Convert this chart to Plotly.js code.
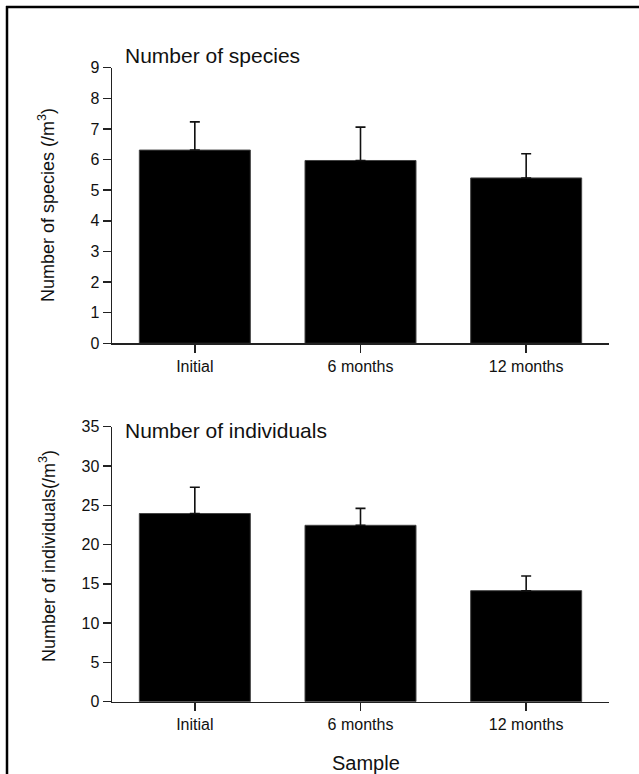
<!DOCTYPE html>
<html>
<head>
<meta charset="utf-8">
<script src="https://cdn.plot.ly/plotly-3.0.1.min.js"></script>
<style>html,body{margin:0;padding:0;background:#fff;}#chart{width:639px;height:774px;}</style>
</head>
<body>
<div id="chart"></div>
<script>
// ---- data ----
var categories = ["Initial", "6 months", "12 months"];
var speciesMean = [6.31, 5.97, 5.40];
var speciesErr = [0.92, 1.09, 0.79];
var individualsMean = [23.95, 22.45, 14.13];
var individualsErr = [3.35, 2.15, 1.87];
var speciesTicks = [0, 1, 2, 3, 4, 5, 6, 7, 8, 9];
var individualsTicks = [0, 5, 10, 15, 20, 25, 30, 35];

var W = 639, H = 774;
function px(x) { return x / W; }
function py(y) { return (H - y) / H; }
var FONT = "Liberation Sans, Arial, Helvetica, sans-serif";

function barTrace(y, err, xa, ya) {
  return {
    type: "bar", x: categories, y: y, xaxis: xa, yaxis: ya,
    marker: { color: "#000000", line: { color: "#444444", width: 1 } },
    error_y: { type: "data", array: err, symmetric: false, arrayminus: [0, 0, 0],
               color: "#111111", thickness: 1.6, width: 5 },
    hoverinfo: "x+y", showlegend: false
  };
}

var xCommon = {
  domain: [px(112), px(609)], range: [-0.5, 2.5], type: "category",
  showline: true, linecolor: "#222", linewidth: 1.5,
  ticks: "outside", ticklen: 8, tickwidth: 1.5, tickcolor: "#222",
  tickfont: { family: FONT, size: 16, color: "#111" },
  showgrid: false, zeroline: false, fixedrange: true
};
var yCommon = {
  showline: true, linecolor: "#222", linewidth: 1.5,
  ticks: "outside", ticklen: 8, tickwidth: 1.5, tickcolor: "#222",
  tickfont: { family: FONT, size: 16, color: "#111" },
  showgrid: false, zeroline: false, fixedrange: true, tickmode: "array"
};

var layout = {
  width: W, height: H,
  margin: { l: 0, r: 0, t: 0, b: 0 },
  paper_bgcolor: "#fff", plot_bgcolor: "rgba(0,0,0,0)",
  bargap: 0.33,
  font: { family: FONT, color: "#111" },
  xaxis: Object.assign({}, xCommon, { anchor: "y" }),
  yaxis: Object.assign({}, yCommon, { domain: [py(343.3), py(67.7)], range: [0, 9], anchor: "x",
          tickvals: speciesTicks, ticktext: speciesTicks.map(String) }),
  xaxis2: Object.assign({}, xCommon, { anchor: "y2" }),
  yaxis2: Object.assign({}, yCommon, { domain: [py(701.7), py(426.7)], range: [0, 35], anchor: "x2",
          tickvals: individualsTicks, ticktext: individualsTicks.map(String) }),
  annotations: [
    { text: "Number of species", xref: "paper", yref: "paper", x: px(123), y: py(56),
      xanchor: "left", yanchor: "middle", showarrow: false, font: { family: FONT, size: 21, color: "#111" } },
    { text: "Number of individuals", xref: "paper", yref: "paper", x: px(123), y: py(430),
      xanchor: "left", yanchor: "middle", showarrow: false, font: { family: FONT, size: 21, color: "#111" } },
    { text: "Number of species (/m<sup>3</sup>)", xref: "paper", yref: "paper", x: px(47), y: py(205),
      xanchor: "center", yanchor: "middle", textangle: -90, showarrow: false, font: { family: FONT, size: 18, color: "#111" } },
    { text: "Number of individuals(/m<sup>3</sup>)", xref: "paper", yref: "paper", x: px(47), y: py(556),
      xanchor: "center", yanchor: "middle", textangle: -90, showarrow: false, font: { family: FONT, size: 18, color: "#111" } },
    { text: "Sample", xref: "paper", yref: "paper", x: px(366), y: py(763),
      xanchor: "center", yanchor: "middle", showarrow: false, font: { family: FONT, size: 20, color: "#111" } }
  ],
  shapes: [
    { type: "line", xref: "paper", yref: "paper", x0: px(7), x1: px(7), y0: py(6), y1: 0,
      line: { color: "#000", width: 2.5 } },
    { type: "line", xref: "paper", yref: "paper", x0: px(6), x1: 1, y0: py(7), y1: py(7),
      line: { color: "#000", width: 2.5 } }
  ]
};

Plotly.newPlot("chart", [
  barTrace(speciesMean, speciesErr, "x", "y"),
  barTrace(individualsMean, individualsErr, "x2", "y2")
], layout, { displayModeBar: false, staticPlot: true });
</script>
</body>
</html>
